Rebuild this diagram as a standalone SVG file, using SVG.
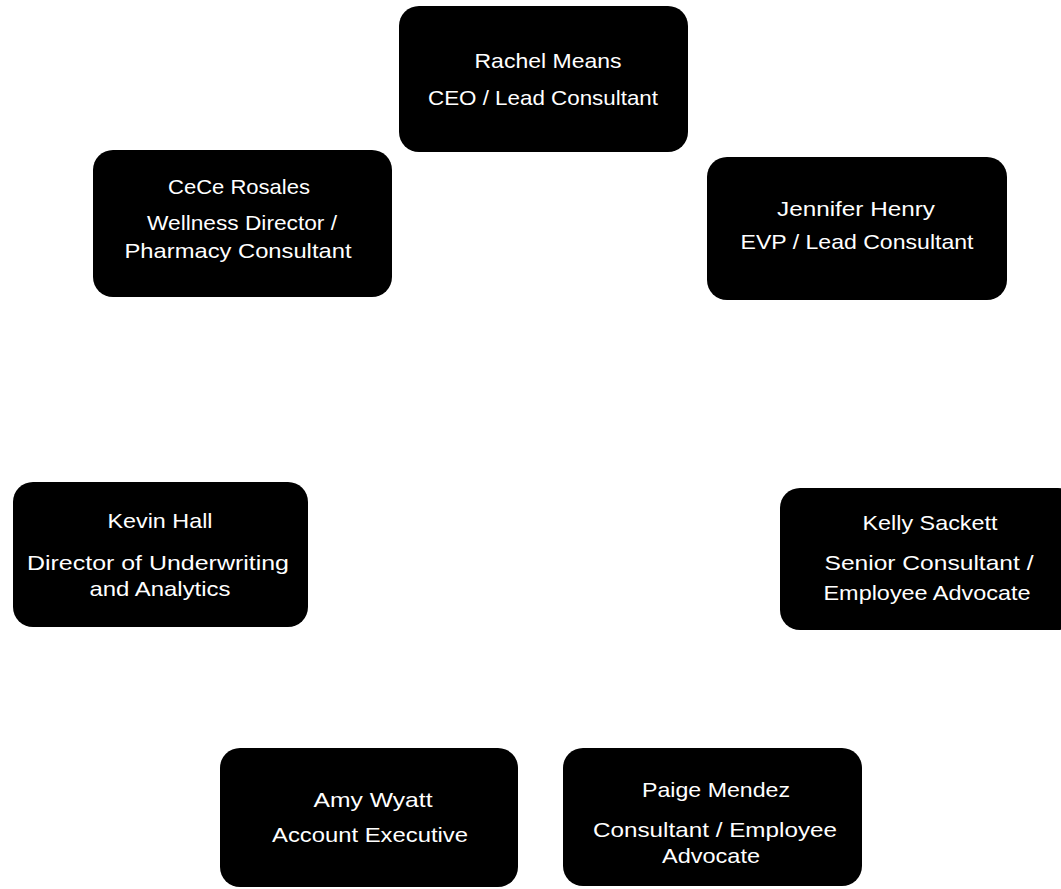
<svg xmlns="http://www.w3.org/2000/svg" width="1061" height="889" viewBox="0 0 1061 889">
  <style>
    .box { fill: #000000; }
    .lbl { fill: #ffffff; font-family: "Liberation Sans", Arial, sans-serif; font-size: 21px; text-anchor: middle; }
  </style>
  <rect width="1061" height="889" fill="#ffffff"/>

  <!-- staff cards, black rounded rectangles with white two/three-line labels -->
  <g id="rachel-means">
    <rect class="box" x="399" y="6" width="289" height="146" rx="20"/>
    <text class="lbl" x="548" y="68" textLength="147" lengthAdjust="spacingAndGlyphs">Rachel Means</text>
    <text class="lbl" x="543" y="105" textLength="230" lengthAdjust="spacingAndGlyphs">CEO / Lead Consultant</text>
  </g>

  <g id="cece-rosales">
    <rect class="box" x="93" y="150" width="299" height="147" rx="20"/>
    <text class="lbl" x="239" y="194" textLength="142" lengthAdjust="spacingAndGlyphs">CeCe Rosales</text>
    <text class="lbl" x="242" y="230" textLength="190" lengthAdjust="spacingAndGlyphs">Wellness Director /</text>
    <text class="lbl" x="238" y="258" textLength="227" lengthAdjust="spacingAndGlyphs">Pharmacy Consultant</text>
  </g>

  <g id="jennifer-henry">
    <rect class="box" x="707" y="157" width="300" height="143" rx="20"/>
    <text class="lbl" x="856" y="216" textLength="158" lengthAdjust="spacingAndGlyphs">Jennifer Henry</text>
    <text class="lbl" x="857" y="249" textLength="233" lengthAdjust="spacingAndGlyphs">EVP / Lead Consultant</text>
  </g>

  <g id="kevin-hall">
    <rect class="box" x="13" y="482" width="295" height="145" rx="20"/>
    <text class="lbl" x="160" y="528" textLength="105" lengthAdjust="spacingAndGlyphs">Kevin Hall</text>
    <text class="lbl" x="158" y="570" textLength="262" lengthAdjust="spacingAndGlyphs">Director of Underwriting</text>
    <text class="lbl" x="160" y="596" textLength="141" lengthAdjust="spacingAndGlyphs">and Analytics</text>
  </g>

  <g id="kelly-sackett">
    <rect class="box" x="780" y="488" width="298" height="142" rx="20"/>
    <text class="lbl" x="930" y="530" textLength="135" lengthAdjust="spacingAndGlyphs">Kelly Sackett</text>
    <text class="lbl" x="929" y="570" textLength="209" lengthAdjust="spacingAndGlyphs">Senior Consultant /</text>
    <text class="lbl" x="927" y="600" textLength="207" lengthAdjust="spacingAndGlyphs">Employee Advocate</text>
  </g>

  <g id="amy-wyatt">
    <rect class="box" x="220" y="748" width="298" height="139" rx="20"/>
    <text class="lbl" x="373" y="807" textLength="119" lengthAdjust="spacingAndGlyphs">Amy Wyatt</text>
    <text class="lbl" x="370" y="842" textLength="196" lengthAdjust="spacingAndGlyphs">Account Executive</text>
  </g>

  <g id="paige-mendez">
    <rect class="box" x="563" y="748" width="299" height="138" rx="20"/>
    <text class="lbl" x="716" y="797" textLength="148" lengthAdjust="spacingAndGlyphs">Paige Mendez</text>
    <text class="lbl" x="715" y="837" textLength="244" lengthAdjust="spacingAndGlyphs">Consultant / Employee</text>
    <text class="lbl" x="711" y="863" textLength="98" lengthAdjust="spacingAndGlyphs">Advocate</text>
  </g>

  <g id="connectors"></g>
</svg>
